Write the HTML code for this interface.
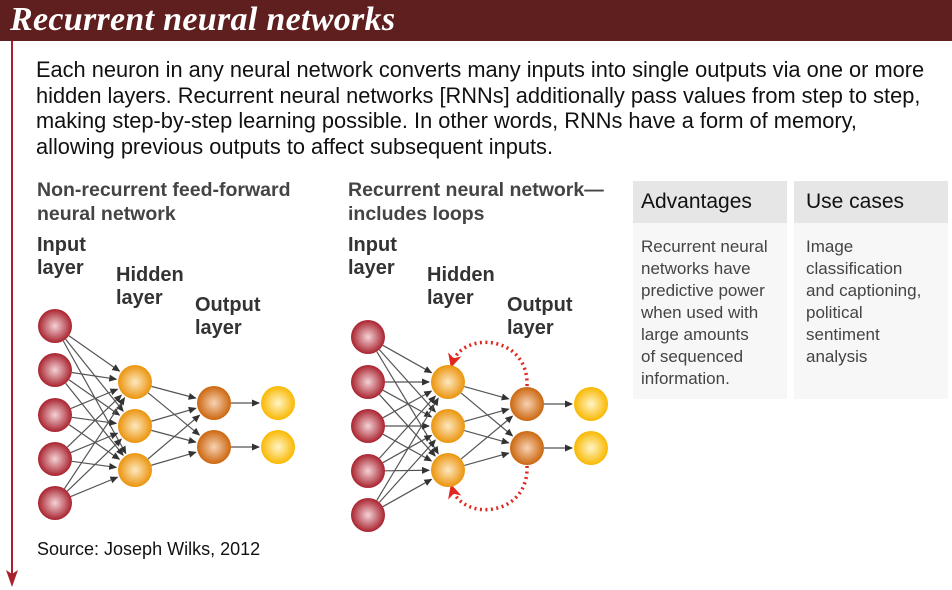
<!DOCTYPE html>
<html><head><meta charset="utf-8"><style>
body{margin:0;width:952px;height:590px;background:#fff;overflow:hidden;position:relative;font-family:"Liberation Sans",Arial,sans-serif}
.t{position:absolute;white-space:nowrap}
#bar{position:absolute;left:0;top:0;width:952px;height:41px;background:#5e1f1e}
#title{left:10px;top:1px;color:#fff;font-family:"Liberation Serif",serif;font-weight:bold;font-style:italic;font-size:34px;letter-spacing:0.3px}
#intro{left:36px;top:57px;font-size:21.8px;line-height:25.5px;color:#111}
.sub{font-weight:bold;font-size:19.5px;color:#444;line-height:24px}
.lab{font-weight:bold;font-size:20px;color:#333;line-height:23px}
.hd{position:absolute;top:181px;height:42px;background:#e6e6e6;font-size:21px;color:#111}
.bd{position:absolute;top:223px;height:176px;background:#f7f7f7;font-size:17px;line-height:22px;color:#444}
</style></head><body>
<div id="bar"></div>
<div class="t" id="title">Recurrent neural networks</div>
<div class="t" id="intro">Each neuron in any neural network converts many inputs into single outputs via one or more<br>hidden layers. Recurrent neural networks [RNNs] additionally pass values from step to step,<br>making step-by-step learning possible. In other words, RNNs have a form of memory,<br>allowing previous outputs to affect subsequent inputs.</div>
<div class="t sub" style="left:37px;top:178px">Non-recurrent feed-forward<br>neural network</div>
<div class="t sub" style="left:348px;top:178px">Recurrent neural network—<br>includes loops</div>
<div class="t lab" style="left:37px;top:234px">Input<br>layer</div>
<div class="t lab" style="left:116px;top:264px">Hidden<br>layer</div>
<div class="t lab" style="left:195px;top:294px">Output<br>layer</div>
<div class="t lab" style="left:348px;top:234px">Input<br>layer</div>
<div class="t lab" style="left:427px;top:264px">Hidden<br>layer</div>
<div class="t lab" style="left:507px;top:294px">Output<br>layer</div>
<div class="hd" style="left:633px;width:154px"><span style="position:absolute;left:8px;top:9px">Advantages</span></div>
<div class="bd" style="left:633px;width:154px"><span style="position:absolute;left:8px;top:13px">Recurrent neural<br>networks have<br>predictive power<br>when used with<br>large amounts<br>of sequenced<br>information.</span></div>
<div class="hd" style="left:794px;width:154px"><span style="position:absolute;left:12px;top:9px">Use cases</span></div>
<div class="bd" style="left:794px;width:154px"><span style="position:absolute;left:12px;top:13px">Image<br>classification<br>and captioning,<br>political<br>sentiment<br>analysis</span></div>
<div class="t" style="left:37px;top:539px;font-size:18px;color:#111">Source: Joseph Wilks, 2012</div>
<svg id="s" width="952" height="590" style="position:absolute;left:0;top:0">
<defs>
<marker id="ar" markerWidth="8" markerHeight="8" refX="7" refY="4" orient="auto" markerUnits="userSpaceOnUse"><path d="M0,0.5 L8,4 L0,7.5 z" fill="#333"/></marker>
<marker id="rr" markerWidth="14" markerHeight="14" refX="10" refY="7" orient="auto" markerUnits="userSpaceOnUse"><path d="M0,0 L14,7 L0,14 L4,7 z" fill="#e0281e"/></marker>
<radialGradient id="gi" cx="50%" cy="50%" r="50%"><stop offset="0" stop-color="#f3d3d6"/><stop offset="1" stop-color="#a8222e"/></radialGradient>
<radialGradient id="gh" cx="50%" cy="50%" r="50%"><stop offset="0" stop-color="#fde8c0"/><stop offset="1" stop-color="#eb940c"/></radialGradient>
<radialGradient id="go" cx="50%" cy="50%" r="50%"><stop offset="0" stop-color="#f6d3b4"/><stop offset="1" stop-color="#cc660e"/></radialGradient>
<radialGradient id="gf" cx="50%" cy="50%" r="50%"><stop offset="0" stop-color="#fff5c8"/><stop offset="1" stop-color="#f9b800"/></radialGradient>
</defs>
<line x1="12" y1="41" x2="12" y2="575" stroke="#a8222e" stroke-width="2"/>
<path d="M6,570 L12,587 L18,570 L12,574 z" fill="#a8222e"/>
<path d="M527,386 C529,335 462,330 452,364" fill="none" stroke="#e0281e" stroke-width="3.5" stroke-dasharray="2 3.5" marker-end="url(#rr)"/>
<path d="M527,466 C529,517 462,522 452,488" fill="none" stroke="#e0281e" stroke-width="3.5" stroke-dasharray="2 3.5" marker-end="url(#rr)"/>
<g id="g"></g>
</svg>
<script>
var g=document.getElementById('g'),NS='http://www.w3.org/2000/svg',R=17;
function el(n,a){var e=document.createElementNS(NS,n);for(var k in a)e.setAttribute(k,a[k]);g.appendChild(e);}
function conn(A,B){A.forEach(function(a){B.forEach(function(b){var dx=b[0]-a[0],dy=b[1]-a[1],d=Math.hypot(dx,dy);
el('line',{x1:a[0]+dx/d*R,y1:a[1]+dy/d*R,x2:b[0]-dx/d*(R+2),y2:b[1]-dy/d*(R+2),stroke:'#555','stroke-width':1.2,'marker-end':'url(#ar)'});});});}
function net(I,H,O,F){conn(I,H);conn(H,O);for(var i=0;i<2;i++){var a=O[i],b=F[i];el('line',{x1:a[0]+R,y1:a[1],x2:b[0]-R-2,y2:b[1],stroke:'#555','stroke-width':1.2,'marker-end':'url(#ar)'});}
[[I,'gi'],[H,'gh'],[O,'go'],[F,'gf']].forEach(function(p){p[0].forEach(function(c){el('circle',{cx:c[0],cy:c[1],r:R,fill:'url(#'+p[1]+')'});});});}
net([[55,326],[55,370],[55,415],[55,459],[55,503]],[[135,382],[135,426],[135,470]],[[214,403],[214,447]],[[278,403],[278,447]]);
net([[368,337],[368,382],[368,426],[368,471],[368,515]],[[448,382],[448,426],[448,470]],[[527,404],[527,448]],[[591,404],[591,448]]);
</script>
</body></html>
